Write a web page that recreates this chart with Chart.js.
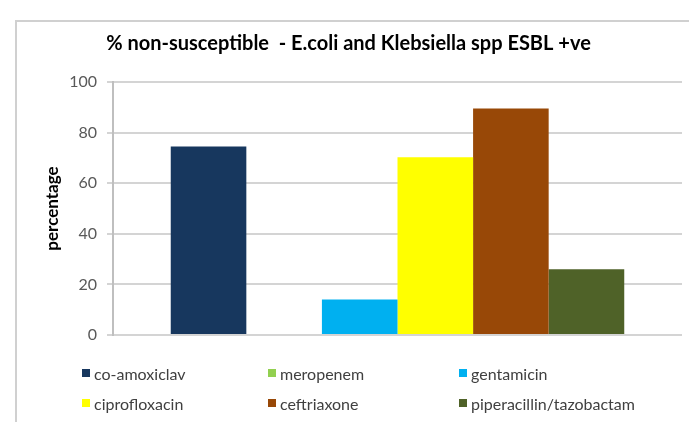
<!DOCTYPE html>
<html>
<head>
  <title>% non-susceptible</title>
  <script src="https://cdn.jsdelivr.net/npm/chart.js"></script>
  <style>
    body { margin: 0; background: #fff; font-family: Lato, "Liberation Sans", sans-serif; }
    #wrap { position: relative; width: 689px; height: 422px; overflow: hidden; }
    #frame { position: absolute; left: 15px; top: 20px; width: 700px; height: 420px; border-left: 2px solid #d0d0d0; border-top: 2px solid #d0d0d0; }
    #chartBox { position: absolute; left: 0; top: 0; width: 689px; height: 422px; }
    #legend { position: absolute; left: 0; top: 0; width: 689px; height: 422px; pointer-events: none; }
    .leg-item { position: absolute; display: flex; align-items: center; font-size: 16px; color: #404040; white-space: nowrap; }
    .leg-box { width: 8px; height: 8px; margin-right: 4px; }
  </style>
</head>
<body>

<div id="wrap">
  <div id="frame"></div>
  <div id="chartBox"><canvas id="abxChart" width="689" height="422"></canvas></div>
  <div id="legend"></div>
</div>

<script>
  // values
  const categories = [''];
  const antibiotics = ['co-amoxiclav', 'meropenem', 'gentamicin', 'ciprofloxacin', 'ceftriaxone', 'piperacillin/tazobactam'];
  const nonSusceptible = [74.5, 0, 14, 70.3, 89.5, 26];
  const barColors = ['#17375E', '#92D050', '#00B0F0', '#FFFF00', '#984807', '#4F6228'];
  const yTicks = [0, 20, 40, 60, 80, 100];

  const datasets = antibiotics.map(function (name, i) {
    return {
      label: name,
      data: [nonSusceptible[i]],
      backgroundColor: barColors[i],
      borderWidth: 0,
      categoryPercentage: 0.797,
      barPercentage: 1.0
    };
  });

  const ctx = document.getElementById('abxChart').getContext('2d');
  const myChart = new Chart(ctx, {
    type: 'bar',
    data: { labels: categories, datasets: datasets },
    options: {
      responsive: false,
      animation: false,
      layout: { padding: { left: 15, right: 7, top: 32, bottom: 87 } },
      plugins: {
        legend: { display: false },
        tooltip: { enabled: false },
        title: {
          display: true,
          text: '% non-susceptible  - E.coli and Klebsiella spp ESBL +ve',
          color: '#000',
          font: { family: 'Lato', size: 20, weight: 'bold' },
          padding: { top: 0, bottom: 26 }
        }
      },
      scales: {
        x: {
          ticks: { display: false },
          grid: { display: false, drawTicks: false },
          border: { display: false }
        },
        y: {
          min: 0,
          max: 100,
          afterBuildTicks: function (axis) {
            axis.ticks = yTicks.map(function (v) { return { value: v }; });
          },
          afterFit: function (axis) { axis.width = 98; },
          ticks: {
            color: '#595959',
            font: { family: 'Lato', size: 16 },
            padding: 10
          },
          grid: { color: '#d4d4d4', lineWidth: 2, tickLength: 6 },
          border: { color: '#bfbfbf', width: 2 },
          title: {
            display: true,
            text: 'percentage',
            color: '#000',
            font: { family: 'Lato', size: 17, weight: 'bold' },
            padding: { top: 27, bottom: 0 }
          }
        }
      }
    }
  });

  // legend: 3 columns, 2 rows like the original
  const legX = [82, 268, 459];
  const legY = [373, 403];
  const legend = document.getElementById('legend');
  antibiotics.forEach(function (name, i) {
    const item = document.createElement('div');
    item.className = 'leg-item';
    item.style.left = legX[i % 3] + 'px';
    item.style.top = (legY[Math.floor(i / 3)] - 10) + 'px';
    item.style.height = '20px';
    item.innerHTML = '<span class="leg-box" style="background:' + barColors[i] + '"></span>' + name;
    legend.appendChild(item);
  });
</script>

</body>
</html>
